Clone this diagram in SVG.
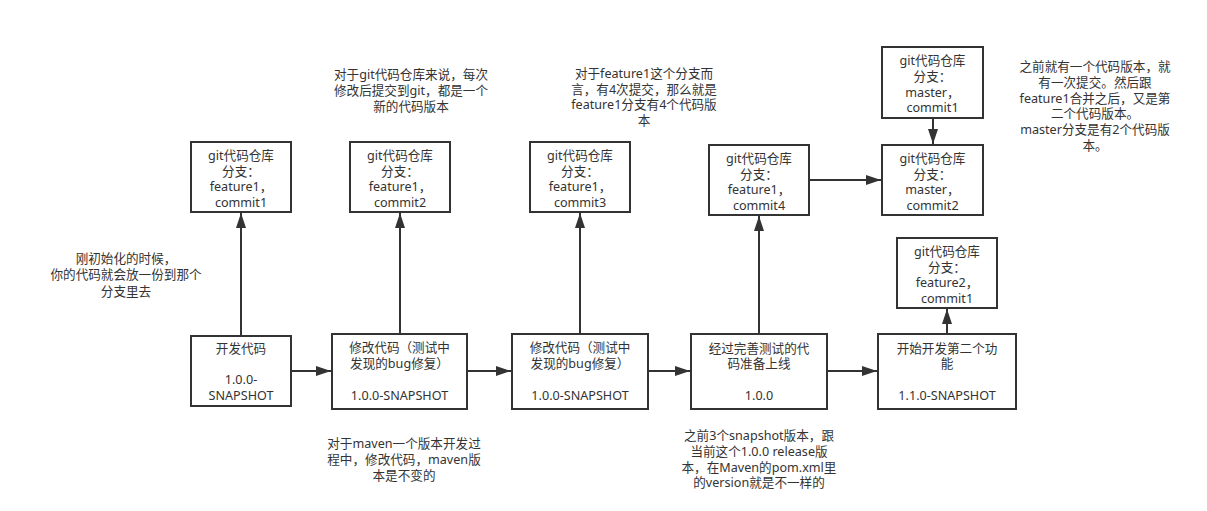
<svg xmlns="http://www.w3.org/2000/svg" width="1207" height="511" viewBox="0 0 1207 511">
<defs>
<marker id="arr" markerUnits="userSpaceOnUse" markerWidth="16" markerHeight="11" refX="15" refY="5" orient="auto">
<path d="M0,0 L15,5 L0,10 z" fill="#333"/>
</marker>
<style>
rect.n{fill:#fff;stroke:#333;stroke-width:2}
text{font-family:"Noto Sans","Noto Sans CJK SC",sans-serif;font-size:12.6px;fill:#333;text-anchor:middle}
.e line{stroke:#333;stroke-width:2;marker-end:url(#arr)}
</style>
</defs>
<rect width="1207" height="511" fill="#fff"/>

<g id="connectors" class="e">
<line x1="241" y1="336" x2="241" y2="213"/>
<line x1="400" y1="334" x2="400" y2="213"/>
<line x1="580" y1="334" x2="580" y2="213"/>
<line x1="759" y1="334" x2="759" y2="216"/>
<line x1="947" y1="334" x2="947" y2="309"/>
<line x1="291" y1="371" x2="331" y2="371"/>
<line x1="467" y1="371" x2="511" y2="371"/>
<line x1="648" y1="371" x2="690" y2="371"/>
<line x1="827" y1="371" x2="877" y2="371"/>
<line x1="809" y1="180" x2="881" y2="180"/>
<line x1="933" y1="118" x2="933" y2="144"/>
</g>

<g id="git1"><rect class="n" x="191" y="142" width="100" height="70"/>
<text x="241" y="159.8">git代码仓库</text><text x="241" y="175.5">分支：</text><text x="241" y="191.2">feature1，</text><text x="241" y="206.9">commit1</text></g>

<g id="git2"><rect class="n" x="350" y="142" width="100" height="70"/>
<text x="400" y="159.8">git代码仓库</text><text x="400" y="175.5">分支：</text><text x="400" y="191.2">feature1，</text><text x="400" y="206.9">commit2</text></g>

<g id="git3"><rect class="n" x="530" y="142" width="100" height="70"/>
<text x="580" y="159.8">git代码仓库</text><text x="580" y="175.5">分支：</text><text x="580" y="191.2">feature1，</text><text x="580" y="206.9">commit3</text></g>

<g id="git4"><rect class="n" x="709" y="145" width="100" height="70"/>
<text x="759" y="162.8">git代码仓库</text><text x="759" y="178.5">分支：</text><text x="759" y="194.2">feature1，</text><text x="759" y="209.9">commit4</text></g>

<g id="master1"><rect class="n" x="882" y="47" width="101" height="71"/>
<text x="932.5" y="65.3">git代码仓库</text><text x="932.5" y="81">分支：</text><text x="932.5" y="96.7">master，</text><text x="932.5" y="112.4">commit1</text></g>

<g id="master2"><rect class="n" x="882" y="145" width="101" height="70"/>
<text x="932.5" y="162.8">git代码仓库</text><text x="932.5" y="178.5">分支：</text><text x="932.5" y="194.2">master，</text><text x="932.5" y="209.9">commit2</text></g>

<g id="feature2"><rect class="n" x="897" y="238" width="100" height="70"/>
<text x="947" y="255.8">git代码仓库</text><text x="947" y="271.5">分支：</text><text x="947" y="287.2">feature2，</text><text x="947" y="302.9">commit1</text></g>

<g id="dev"><rect class="n" x="191" y="336" width="100" height="70"/>
<text x="241" y="352.6">开发代码</text><text x="241" y="384.1">1.0.0-</text><text x="241" y="399.8">SNAPSHOT</text></g>

<g id="modify1"><rect class="n" x="332" y="334" width="135" height="75"/>
<text x="399.5" y="351.6">修改代码（测试中</text><text x="399.5" y="367.6">发现的bug修复）</text><text x="399.5" y="399.6">1.0.0-SNAPSHOT</text></g>

<g id="modify2"><rect class="n" x="512" y="334" width="136" height="75"/>
<text x="580" y="351.6">修改代码（测试中</text><text x="580" y="367.6">发现的bug修复）</text><text x="580" y="399.6">1.0.0-SNAPSHOT</text></g>

<g id="release"><rect class="n" x="691" y="334" width="136" height="75"/>
<text x="759" y="352.6">经过完善测试的代</text><text x="759" y="368">码准备上线</text><text x="759" y="399.6">1.0.0</text></g>

<g id="start2"><rect class="n" x="878" y="334" width="138" height="75"/>
<text x="947" y="352.6">开始开发第二个功</text><text x="947" y="368">能</text><text x="947" y="399.6">1.1.0-SNAPSHOT</text></g>

<g id="note-init">
<text x="126" y="262.7">刚初始化的时候，</text><text x="126" y="279.4">你的代码就会放一份到那个</text><text x="126" y="296.1">分支里去</text></g>

<g id="note-git">
<text x="411" y="79.4">对于git代码仓库来说，每次</text><text x="411" y="95.4">修改后提交到git，都是一个</text><text x="411" y="111.1">新的代码版本</text></g>

<g id="note-feature1">
<text x="644" y="77.7">对于feature1这个分支而</text><text x="644" y="93.7">言，有4次提交，那么就是</text><text x="644" y="109.4">feature1分支有4个代码版</text><text x="644" y="125.4">本</text></g>

<g id="note-master">
<text x="1095" y="71.1">之前就有一个代码版本，就</text><text x="1095" y="87.1">有一次提交。然后跟</text><text x="1095" y="102.7">feature1合并之后，又是第</text><text x="1095" y="118.4">二个代码版本。</text><text x="1095" y="134.4">master分支是有2个代码版</text><text x="1095" y="150.4">本。</text></g>

<g id="note-maven">
<text x="404" y="448.4">对于maven一个版本开发过</text><text x="404" y="464.4">程中，修改代码，maven版</text><text x="404" y="480.4">本是不变的</text></g>

<g id="note-release">
<text x="759" y="440.1">之前3个snapshot版本，跟</text><text x="759" y="456.1">当前这个1.0.0 release版</text><text x="759" y="472.1">本，在Maven的pom.xml里</text><text x="759" y="487.4">的version就是不一样的</text></g>
</svg>
